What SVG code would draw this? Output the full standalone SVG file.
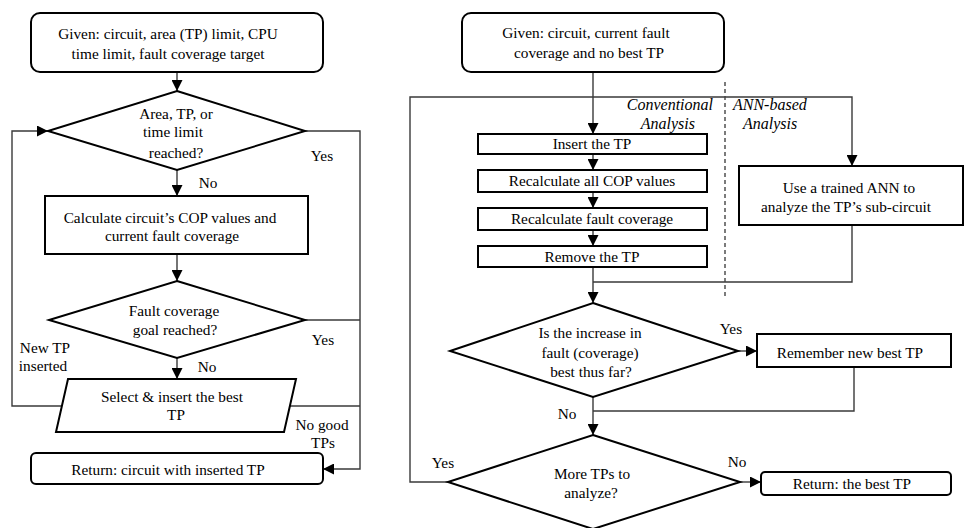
<svg xmlns="http://www.w3.org/2000/svg" width="965" height="528" viewBox="0 0 965 528">
<style>
  .box { fill: #fff; stroke: #000; stroke-width: 2; }
  .conn { fill: none; stroke: #3a3a3a; stroke-width: 1.4; }
  .arr { marker-end: url(#ah); }
  .dash { fill: none; stroke: #444; stroke-width: 1.4; stroke-dasharray: 4 3; }
  .t text { font-family: 'Liberation Serif', 'Times New Roman', Tinos, 'DejaVu Serif', serif; font-style: normal; font-weight: normal; font-size: 15.3px; fill: #000; text-anchor: middle; }
  .t text.it { font-style: italic; font-size: 16px; }
  .t text.st { text-anchor: start; }
  .t text.en { text-anchor: end; }
</style>
<defs>
  <marker id="ah" viewBox="0 0 10 10" refX="10" refY="5" markerWidth="11" markerHeight="11" markerUnits="userSpaceOnUse" orient="auto">
    <path d="M0,0 L10,5 L0,10 z" fill="#000"/>
  </marker>
</defs>
<rect width="965" height="528" fill="#fff"/>

<g id="connectors">
  <path class="conn arr" d="M177,72 V91"/>
  <path class="conn arr" d="M177,170 V196"/>
  <path class="conn arr" d="M177,254 V281"/>
  <path class="conn arr" d="M177,358 V379"/>
  <path class="conn arr" d="M305,131 H360 V469 H323"/>
  <path class="conn" d="M305,320 H360"/>
  <path class="conn" d="M290,406 H360"/>
  <path class="conn arr" d="M62,406 H12 V131 H48"/>
  <path class="conn arr" d="M593,72 V134"/>
  <path class="conn arr" d="M448,482 H410 V97 H852 V166"/>
  <path class="conn arr" d="M593,154 V170"/>
  <path class="conn arr" d="M593,192 V208"/>
  <path class="conn arr" d="M593,230 V246"/>
  <path class="conn arr" d="M593,267 V303"/>
  <path class="conn" d="M852,225 V282 H593"/>
  <path class="conn arr" d="M738,351 H757"/>
  <path class="conn arr" d="M593,397 V435"/>
  <path class="conn" d="M854,367 V411 H593"/>
  <path class="conn arr" d="M740,482 H761"/>
  <path class="dash" d="M725,82 V298"/>
</g>

<g class="t" font-family="Liberation Serif, serif">
<g id="given-left">
  <rect class="box" x="31" y="13" width="292" height="59" rx="9"/>
  <text x="168" y="39">Given: circuit, area (TP) limit, CPU</text>
  <text x="168" y="59">time limit, fault coverage target</text>
</g>
<g id="limit-check">
  <polygon class="box" points="177,91 305,131 177,170 48,131"/>
  <text x="176" y="119">Area, TP, or</text>
  <text x="173" y="137">time limit</text>
  <text x="176" y="158">reached?</text>
</g>
<g id="calc-cop">
  <rect class="box" x="45" y="196" width="263" height="58"/>
  <text x="170" y="223">Calculate circuit’s COP values and</text>
  <text x="172" y="241">current fault coverage</text>
</g>
<g id="fc-goal">
  <polygon class="box" points="177,281 305,320 177,358 49,320"/>
  <text x="174" y="316">Fault coverage</text>
  <text x="175" y="335">goal reached?</text>
</g>
<g id="select-insert">
  <polygon class="box" points="68,379 296,379 284,432 56,432"/>
  <text x="172" y="402">Select &amp; insert the best</text>
  <text x="176" y="420">TP</text>
</g>
<g id="return-left">
  <rect class="box" x="31" y="453" width="292" height="31" rx="5"/>
  <text x="168" y="475">Return: circuit with inserted TP</text>
</g>
<g id="left-labels">
  <text x="322" y="161">Yes</text>
  <text x="208" y="188">No</text>
  <text x="323" y="345">Yes</text>
  <text x="207" y="372">No</text>
  <text x="45" y="353">New TP</text>
  <text x="43" y="371">inserted</text>
  <text x="322" y="430">No good</text>
  <text x="323" y="448">TPs</text>
</g>

<g id="given-right">
  <rect class="box" x="462" y="13" width="262" height="59" rx="9"/>
  <text x="586" y="38">Given: circuit, current fault</text>
  <text x="589" y="58">coverage and no best TP</text>
</g>
<g id="section-labels">
  <text class="it en" x="713" y="110">Conventional</text>
  <text class="it en" x="695" y="129">Analysis</text>
  <text class="it st" x="733" y="110">ANN-based</text>
  <text class="it st" x="743" y="129">Analysis</text>
</g>
<g id="insert-tp">
  <rect class="box" x="478" y="134" width="229" height="20"/>
  <text x="592" y="149">Insert the TP</text>
</g>
<g id="recalc-cop">
  <rect class="box" x="478" y="170" width="229" height="22"/>
  <text x="592" y="186">Recalculate all COP values</text>
</g>
<g id="recalc-fc">
  <rect class="box" x="478" y="208" width="229" height="22"/>
  <text x="592" y="224">Recalculate fault coverage</text>
</g>
<g id="remove-tp">
  <rect class="box" x="478" y="246" width="229" height="21"/>
  <text x="592" y="262">Remove the TP</text>
</g>
<g id="ann">
  <rect class="box" x="739" y="166" width="224" height="59"/>
  <text x="849" y="193">Use a trained ANN to</text>
  <text x="846" y="212">analyze the TP’s sub-circuit</text>
</g>
<g id="best-check">
  <polygon class="box" points="593,303 738,351 593,397 450,351"/>
  <text x="590" y="338">Is the increase in</text>
  <text x="590" y="358">fault (coverage)</text>
  <text x="591" y="377">best thus far?</text>
</g>
<g id="remember">
  <rect class="box" x="757" y="334" width="194" height="33"/>
  <text x="850" y="358">Remember new best TP</text>
</g>
<g id="more-tps">
  <polygon class="box" points="593,435 740,482 593,529 448,482"/>
  <text x="592" y="479">More TPs to</text>
  <text x="591" y="498">analyze?</text>
</g>
<g id="return-right">
  <rect class="box" x="761" y="472" width="190" height="23" rx="4"/>
  <text x="852" y="489">Return: the best TP</text>
</g>
<g id="right-labels">
  <text x="731" y="334">Yes</text>
  <text x="567" y="419">No</text>
  <text x="443" y="468">Yes</text>
  <text x="737" y="467">No</text>
</g>
</g>
</svg>
